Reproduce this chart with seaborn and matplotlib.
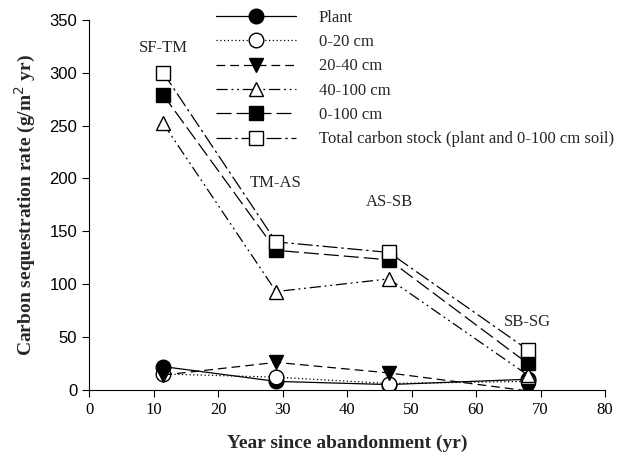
import matplotlib
matplotlib.use("Agg")
import matplotlib.pyplot as plt
import seaborn as sns
import pandas as pd

years = [11.5, 29, 46.5, 68]
stage_labels = ["SF-TM", "TM-AS", "AS-SB", "SB-SG"]
plant = [22, 8, 5, 10]
soil_0_20 = [15, 12, 6, 8]
soil_20_40 = [14, 26, 16, -1]
soil_40_100 = [252, 93, 105, 14]
soil_0_100 = [279, 132, 123, 25]
total = [300, 140, 130, 38]
label_pos = [323, 196, 178, 64]

series_names = ["Plant", "0-20 cm", "20-40 cm", "40-100 cm", "0-100 cm",
                "Total carbon stock (plant and 0-100 cm soil)"]
series_values = [plant, soil_0_20, soil_20_40, soil_40_100, soil_0_100, total]

sns.set_style("ticks")
plt.rcParams["font.family"] = ["Liberation Serif", "DejaVu Serif"]

styles = [
    dict(marker="o", mfc="black", ls="-"),
    dict(marker="o", mfc="white", ls=(0, (1, 2))),
    dict(marker="v", mfc="black", ls=(0, (7, 4))),
    dict(marker="^", mfc="white", ls=(0, (9, 3, 1.5, 3, 1.5, 3))),
    dict(marker="s", mfc="black", ls=(0, (12, 4))),
    dict(marker="s", mfc="white", ls=(0, (12, 3, 2, 3))),
]

fig = plt.figure(figsize=(6.27, 4.63), dpi=100)
ax = fig.add_axes([0.142, 0.158, 0.823, 0.799])

for name, vals, st in zip(series_names, series_values, styles):
    df = pd.DataFrame({"year": years, "rate": vals})
    sns.lineplot(data=df, x="year", y="rate", ax=ax, color="black",
                 marker=st["marker"], markersize=10.5,
                 markerfacecolor=st["mfc"], markeredgecolor="black",
                 markeredgewidth=1.0, linestyle=st["ls"], linewidth=0.9,
                 label=name)

for x, y, lab in zip(years, label_pos, stage_labels):
    ax.text(x, y, lab, ha="center", va="center", fontsize=12,
            family=["Liberation Serif"])

ax.set_xlim(0, 80)
ax.set_ylim(0, 350)
ax.set_xticks(range(0, 81, 10))
ax.set_yticks(range(0, 351, 50))
for lab in ax.get_yticklabels():
    lab.set_family(["Liberation Sans"])
    lab.set_fontsize(12)
for lab in ax.get_xticklabels():
    lab.set_family(["Liberation Serif"])
    lab.set_fontsize(12)
ax.tick_params(direction="out", length=5, width=0.8, colors="black")
sns.despine(ax=ax)
for s in ["left", "bottom"]:
    ax.spines[s].set_color("black")
    ax.spines[s].set_linewidth(0.8)

ax.set_xlabel("Year since abandonment (yr)", fontsize=14, fontweight="bold",
              labelpad=12)
ax.set_ylabel("Carbon sequestration rate (g/m$^2$ yr)", fontsize=14,
              fontweight="bold", labelpad=8)

leg = ax.legend(loc="upper left", bbox_to_anchor=(0.217, 1.068), frameon=False,
                fontsize=12, handlelength=4.8, labelspacing=0.5,
                handletextpad=1.35)

fig.savefig("out.png", dpi=100)
